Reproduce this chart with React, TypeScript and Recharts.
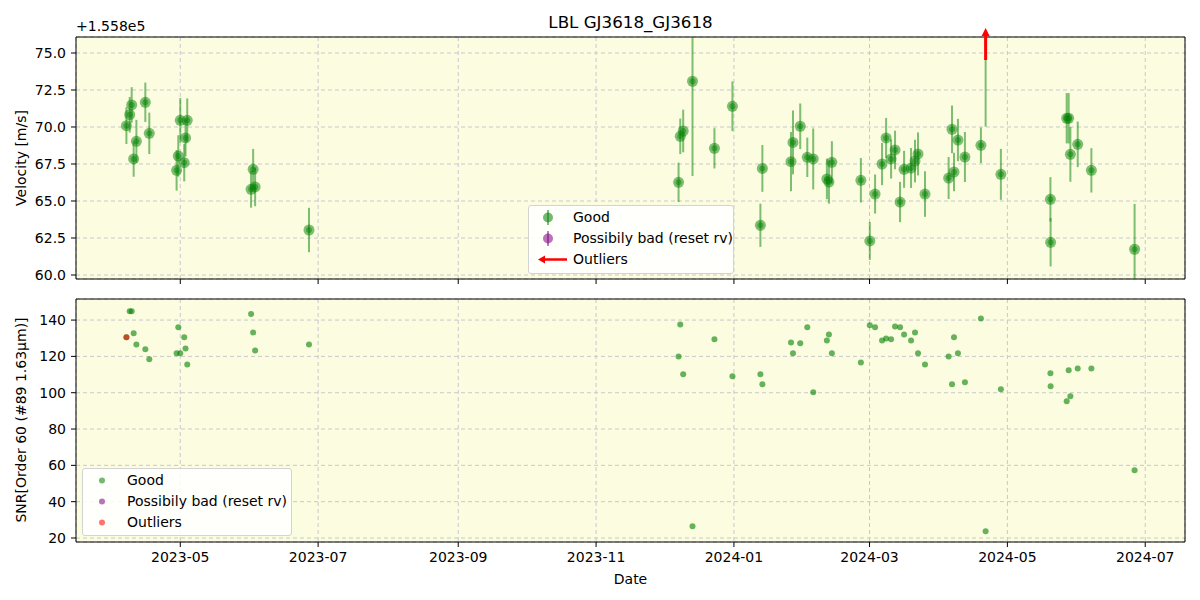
import React from "react";
import { CartesianGrid, ErrorBar, ReferenceArea, ReferenceDot, ReferenceLine, Scatter, ScatterChart, XAxis, YAxis } from "recharts";

const FONT = "'DejaVu Sans', Verdana, sans-serif";
const BG = "#fcfce0";
const GRID = "#c8c8cc";

// observation times (UTC)
const obsDates = [
  "2023-04-07T04:00", "2023-04-08T15:00", "2023-04-09T12:00", "2023-04-10T09:00", "2023-04-11T14:00",
  "2023-04-15T13:00", "2023-04-17T07:00", "2023-04-29T09:00", "2023-04-30T03:00", "2023-05-01T00:00",
  "2023-05-02T18:00", "2023-05-03T08:00", "2023-05-04T02:00", "2023-06-01T08:00", "2023-06-02T06:00",
  "2023-06-03T03:00", "2023-06-26T23:00", "2023-12-07T12:00", "2023-12-08T06:00", "2023-12-09T13:00",
  "2023-12-13T16:00", "2023-12-23T09:00", "2023-12-31T08:00", "2024-01-12T17:00", "2024-01-13T14:00",
  "2024-01-26T06:00", "2024-01-27T03:00", "2024-01-30T08:00", "2024-02-02T11:00", "2024-02-05T02:00",
  "2024-02-11T03:00", "2024-02-12T01:00", "2024-02-13T08:00", "2024-02-26T04:00", "2024-03-01T03:00",
  "2024-03-03T11:00", "2024-03-06T13:00", "2024-03-08T08:00", "2024-03-10T13:00", "2024-03-12T07:00",
  "2024-03-14T12:00", "2024-03-16T07:00", "2024-03-19T09:00", "2024-03-21T03:00", "2024-03-22T11:00",
  "2024-03-25T13:00", "2024-04-05T00:00", "2024-04-06T12:00", "2024-04-07T09:00", "2024-04-09T03:00",
  "2024-04-12T05:00", "2024-04-19T07:00", "2024-04-28T03:00", "2024-05-20T01:00", "2024-05-20T03:00",
  "2024-05-27T06:00", "2024-05-28T03:00", "2024-05-28T21:00", "2024-06-01T03:00", "2024-06-07T04:00",
  "2024-06-26T07:00",
];

// velocity minus 1.558e5 m/s
const rvValues = [
  70.09, 70.83, 71.49, 67.84, 69.03, 71.67, 69.57, 67.07, 68.04, 70.45,
  67.59, 69.26, 70.45, 65.79, 67.14, 65.95, 63.04, 66.26, 69.37, 69.73,
  73.09, 68.56, 71.4, 63.36, 67.2, 67.66, 68.96, 70.05, 67.95, 67.84,
  66.49, 66.28, 67.61, 66.4, 62.3, 65.47, 67.5, 69.26, 67.84, 68.45,
  64.93, 67.14, 67.23, 67.7, 68.18, 65.47, 66.55, 69.84, 66.96, 69.12,
  67.97, 68.76, 66.8, 65.11, 62.21, 70.59, 70.59, 68.15, 68.83, 67.07,
  61.74,
];

const rvErrors = [
  1.24, 1.2, 1.2, 1.2, 1.45, 1.33, 1.4, 1.37, 1.4, 1.5,
  1.26, 1.25, 1.48, 1.24, 1.38, 1.3, 1.5, 1.33, 1.2, 1.44,
  6.4, 1.36, 1.68, 1.46, 1.58, 2.0, 2.16, 1.54, 1.33, 2.06,
  1.37, 1.46, 1.43, 1.5, 1.28, 1.32, 1.43, 1.35, 1.32, 1.3,
  1.36, 1.25, 1.35, 1.44, 1.45, 1.54, 1.42, 1.61, 1.3, 1.43,
  1.69, 1.2, 1.72, 1.5, 1.63, 1.7, 1.7, 1.85, 1.54, 1.5,
  3.06,
];

const snrValues = [
  130.5, 144.8, 144.8, 132.7, 126.6, 124.0, 118.4, 121.7, 136.0, 121.7,
  130.5, 124.4, 115.6, 143.3, 133.2, 123.3, 126.6, 120.0, 137.6, 110.1,
  26.5, 129.4, 109.0, 110.1, 104.6, 127.7, 121.7, 127.2, 136.0, 100.2,
  128.8, 132.1, 121.7, 116.7, 137.1, 136.0, 128.8, 129.9, 129.4, 136.5,
  136.0, 132.1, 128.8, 133.2, 121.7, 115.6, 120.0, 104.6, 130.5, 121.7,
  105.7, 140.9, 101.9, 110.7, 103.5, 95.3, 112.3, 98.0, 113.4, 113.4,
  57.3,
];

// velocity outlier (off the top of the panel)
const outlierDates = ["2024-04-21T09:00"];
const outlierRv = [78.5];
const outlierErr = [8.48];
const outlierSnr = [23.7];

// flagged point in the SNR panel
const snrFlagDates = ["2023-04-07T04:00"];
const snrFlagValues = [130.5];

const xTickDates = ["2023-05-01", "2023-07-01", "2023-09-01", "2023-11-01", "2024-01-01", "2024-03-01", "2024-05-01", "2024-07-01"];
const rvTicks = [60, 62.5, 65, 67.5, 70, 72.5, 75];
const snrTicks = [20, 40, 60, 80, 100, 120, 140];
const rvDomain = [59.73, 76.08];
const snrDomain = [17.8, 151.6];

const toTime = (s: string) => Date.parse(s.length > 10 ? s + "Z" : s + "T00:00Z");
const fmtMonth = (t: number) => {
  const d = new Date(t);
  return `${d.getUTCFullYear()}-${String(d.getUTCMonth() + 1).padStart(2, "0")}`;
};

const allTimes = [...obsDates, ...outlierDates].map(toTime);
const tMin = Math.min(...allTimes);
const tMax = Math.max(...allTimes);
const pad = (tMax - tMin) * 0.05;
const xDomain = [tMin - pad, tMax + pad];
const xTicks = xTickDates.map(toTime);

// error bars are cut at the panel edges, like the clipped matplotlib errorbars
const rvData = obsDates.map((d, i) => ({
  t: toTime(d),
  rv: rvValues[i],
  err: [Math.min(rvErrors[i], rvValues[i] - rvDomain[0]), Math.min(rvErrors[i], rvDomain[1] - rvValues[i])],
}));
const outlierData = outlierDates.map((d, i) => ({ t: toTime(d), rv: outlierRv[i], err: outlierErr[i] }));
const snrData = [
  ...obsDates.map((d, i) => ({ t: toTime(d), snr: snrValues[i] })),
  ...outlierDates.map((d, i) => ({ t: toTime(d), snr: outlierSnr[i] })),
];
const snrFlagData = snrFlagDates.map((d, i) => ({ t: toTime(d), snr: snrFlagValues[i] }));

const tickStyle = { fill: "#000", fontSize: 14, fontFamily: FONT };

const RvDot = (props: any) => {
  const { cx, cy } = props;
  if (cx == null || cy == null) return null;
  return (
    <g>
      <circle cx={cx} cy={cy} r={5.5} fill="#008000" fillOpacity={0.5} />
      <circle cx={cx} cy={cy} r={3} fill="#008000" fillOpacity={0.45} />
    </g>
  );
};

const SnrDot = (color: string, opacity: number) => (props: any) => {
  const { cx, cy } = props;
  if (cx == null || cy == null) return null;
  return <circle cx={cx} cy={cy} r={3} fill={color} fillOpacity={opacity} />;
};

const ArrowUp = (props: any) => {
  const { cx, cy } = props;
  if (cx == null || cy == null) return null;
  return (
    <g>
      <line x1={cx} y1={cy + 23} x2={cx} y2={cy - 2} stroke="#ff0000" strokeWidth={3} />
      <polygon points={`${cx - 4},${cy - 1} ${cx + 4},${cy - 1} ${cx},${cy - 9}`} fill="#ff0000" />
    </g>
  );
};

const legendBox: React.CSSProperties = {
  position: "absolute",
  background: "rgba(255,255,255,0.85)",
  border: "1px solid #d3d3d3",
  borderRadius: 3,
  fontFamily: FONT,
  fontSize: 14,
  color: "#000",
  boxSizing: "border-box",
  paddingTop: 1,
};

const LegendRow = ({ icon, label, textLeft }: { icon: React.ReactNode; label: string; textLeft: number }) => (
  <div style={{ position: "relative", height: 21, lineHeight: "21px" }}>
    <svg width={40} height={21} style={{ position: "absolute", left: 0, top: 0 }}>
      {icon}
    </svg>
    <span style={{ position: "absolute", left: textLeft, top: 0, whiteSpace: "nowrap" }}>{label}</span>
  </div>
);

const errIcon = (color: string) => (
  <g>
    <line x1={19} y1={3} x2={19} y2={18} stroke={color} strokeOpacity={0.5} strokeWidth={2} />
    <circle cx={19} cy={10.5} r={5} fill={color} fillOpacity={0.55} />
  </g>
);

const dotIcon = (color: string) => <circle cx={19} cy={10.5} r={3} fill={color} fillOpacity={0.55} />;

export default function App() {
  return (
    <div style={{ position: "absolute", left: 0, top: 0, width: 1200, height: 600, background: "#fff", fontFamily: FONT }}>
      <div style={{ position: "absolute", left: 0, width: 1261, top: 12, textAlign: "center", fontSize: 16.7, lineHeight: "20px" }}>
        LBL GJ3618_GJ3618
      </div>
      <div style={{ position: "absolute", left: 76, top: 18, fontSize: 14, lineHeight: "16px" }}>+1.558e5</div>
      <div
        style={{
          position: "absolute",
          left: 21,
          top: 158,
          transform: "translate(-50%, -50%) rotate(-90deg)",
          fontSize: 14,
          whiteSpace: "nowrap",
        }}
      >
        Velocity [m/s]
      </div>
      <div
        style={{
          position: "absolute",
          left: 21,
          top: 420,
          transform: "translate(-50%, -50%) rotate(-90deg)",
          fontSize: 14,
          whiteSpace: "nowrap",
        }}
      >
        SNR[Order 60 (#89 1.63μm)]
      </div>

      <div style={{ position: "absolute", left: 0, top: 0 }}>
        <ScatterChart width={1200} height={290} margin={{ top: 37, right: 15, bottom: 0, left: 0 }}>
          <CartesianGrid fill={BG} stroke={GRID} strokeDasharray="4 3" />
          <XAxis
            dataKey="t"
            type="number"
            domain={xDomain}
            ticks={xTicks}
            allowDataOverflow
            height={11}
            tickFormatter={() => ""}
            tickSize={5}
            axisLine={false}
            tickLine={{ stroke: "#000" }}
          />
          <YAxis
            dataKey="rv"
            type="number"
            domain={rvDomain}
            ticks={rvTicks}
            allowDataOverflow
            width={76}
            tickSize={5}
            tickMargin={5}
            tickFormatter={(v: number) => v.toFixed(1)}
            tick={tickStyle}
            axisLine={false}
            tickLine={{ stroke: "#000" }}
          />
          <Scatter data={rvData} dataKey="rv" shape={RvDot} isAnimationActive={false}>
            <ErrorBar dataKey="err" direction="y" width={0} stroke="#008000" strokeOpacity={0.5} strokeWidth={2} />
          </Scatter>
          {outlierData.map((p) => (
            <ReferenceLine
              key={`e${p.t}`}
              segment={[
                { x: p.t, y: p.rv - p.err },
                { x: p.t, y: p.rv + p.err },
              ]}
              ifOverflow="hidden"
              stroke="#008000"
              strokeOpacity={0.5}
              strokeWidth={2}
            />
          ))}
          <ReferenceArea
            x1={xDomain[0]}
            x2={xDomain[1]}
            y1={rvDomain[0]}
            y2={rvDomain[1]}
            fill="none"
            fillOpacity={0}
            stroke="#000"
            strokeWidth={1}
            ifOverflow="visible"
          />
          {outlierData.map((p) => (
            <ReferenceDot key={p.t} x={p.t} y={rvDomain[1]} r={1} ifOverflow="visible" shape={ArrowUp} />
          ))}
        </ScatterChart>
      </div>

      <div style={{ position: "absolute", left: 0, top: 290 }}>
        <ScatterChart width={1200} height={310} margin={{ top: 9, right: 15, bottom: 0, left: 0 }}>
          <CartesianGrid fill={BG} stroke={GRID} strokeDasharray="4 3" />
          <XAxis
            dataKey="t"
            type="number"
            domain={xDomain}
            ticks={xTicks}
            allowDataOverflow
            height={58}
            tickFormatter={fmtMonth}
            tickSize={5}
            tickMargin={5}
            tick={tickStyle}
            axisLine={false}
            tickLine={{ stroke: "#000" }}
            label={{ value: "Date", position: "insideBottom", offset: 16, fill: "#000", fontSize: 14, fontFamily: FONT }}
          />
          <YAxis
            dataKey="snr"
            type="number"
            domain={snrDomain}
            ticks={snrTicks}
            allowDataOverflow
            width={76}
            tickSize={5}
            tickMargin={5}
            tick={tickStyle}
            axisLine={false}
            tickLine={{ stroke: "#000" }}
          />
          <Scatter data={snrData} dataKey="snr" shape={SnrDot("#008000", 0.6)} isAnimationActive={false} />
          <Scatter data={snrFlagData} dataKey="snr" shape={SnrDot("#ff0000", 0.55)} isAnimationActive={false} />
          <ReferenceArea
            x1={xDomain[0]}
            x2={xDomain[1]}
            y1={snrDomain[0]}
            y2={snrDomain[1]}
            fill="none"
            fillOpacity={0}
            stroke="#000"
            strokeWidth={1}
            ifOverflow="visible"
          />
        </ScatterChart>
      </div>

      <div style={{ ...legendBox, left: 528, top: 205, width: 206, height: 69 }}>
        <LegendRow icon={errIcon("#008000")} label="Good" textLeft={44} />
        <LegendRow icon={errIcon("#800080")} label="Possibily bad (reset rv)" textLeft={44} />
        <LegendRow
          icon={
            <g>
              <line x1={14} y1={10.5} x2={38} y2={10.5} stroke="#ff0000" strokeWidth={2.5} />
              <polygon points="9,10.5 16,6.5 16,14.5" fill="#ff0000" />
            </g>
          }
          label="Outliers"
          textLeft={44}
        />
      </div>

      <div style={{ ...legendBox, left: 82, top: 468, width: 210, height: 68 }}>
        <LegendRow icon={dotIcon("#008000")} label="Good" textLeft={44} />
        <LegendRow icon={dotIcon("#800080")} label="Possibily bad (reset rv)" textLeft={44} />
        <LegendRow icon={dotIcon("#ff0000")} label="Outliers" textLeft={44} />
      </div>
    </div>
  );
}
